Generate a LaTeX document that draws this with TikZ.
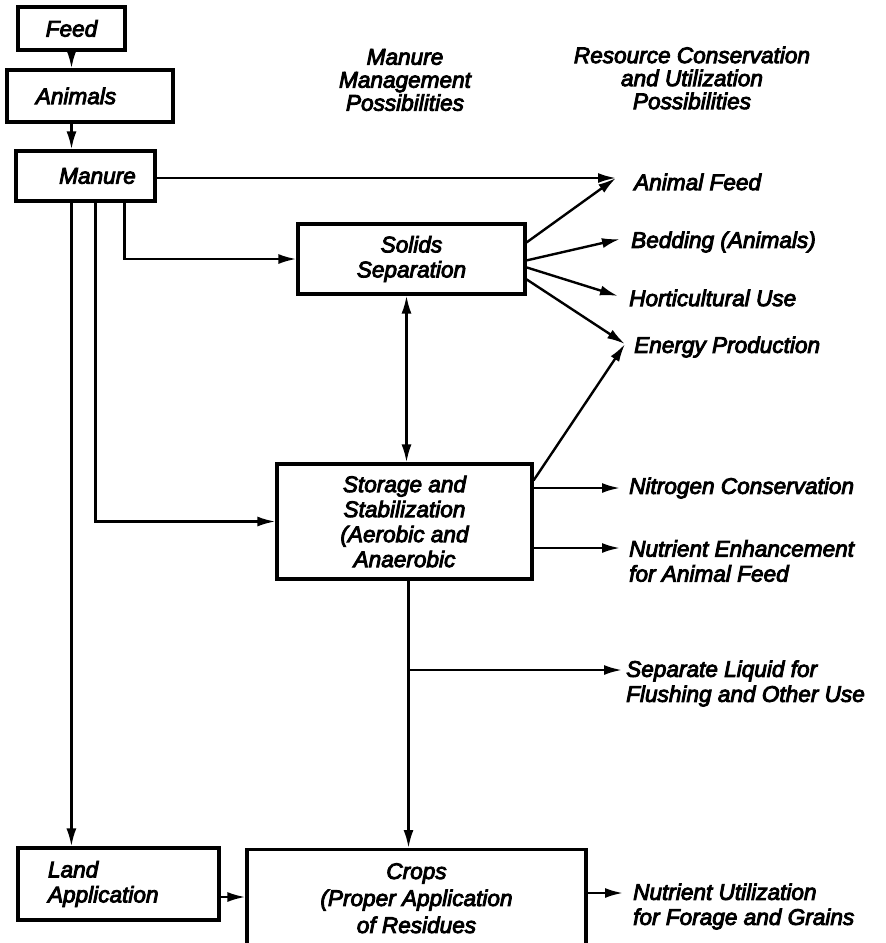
\documentclass[tikz,border=0pt]{standalone}
\usepackage{fontspec}
\newfontfamily\diafont{Liberation Sans}[ItalicFeatures={FakeBold=4}]
\usetikzlibrary{arrows.meta,positioning,calc}

\tikzset{
  box/.style={draw, line width=1.6pt, inner sep=0pt, align=center},
  lbl/.style={anchor=west, align=left, inner sep=0pt},
  hdr/.style={align=center, inner sep=0pt, font=\diafont\itshape\fontsize{11.3}{11.5}\selectfont},
}

\begin{document}
\begin{tikzpicture}[x=0.5pt, y=-0.5pt, line width=1.2pt,
    >={Latex[length=9pt,width=5pt]},
    font=\diafont\itshape\fontsize{11.3}{12.5}\selectfont]
    \useasboundingbox (0,0) rectangle (885,943);
    \clip (0,0) rectangle (885,943);

    % boxes
    \node[box, minimum width=53.5pt, minimum height=21.5pt] (feed) at (71.5,28.5) {Feed};
    \node[box, minimum width=83pt, minimum height=26pt] (animals) at (90,96) {Animals\hspace{14pt}};
    \node[box, minimum width=69.5pt, minimum height=25pt] (manure) at (85.5,176) {\hspace{12pt}Manure};
    \node[box, minimum width=113.5pt, minimum height=35pt] (solids) at (411.5,259) {Solids\\Separation};
    \node[box, minimum width=127.5pt, minimum height=57.5pt] (storage) at (404.5,521.5) {Storage and\\Stabilization\\(Aerobic and\\Anaerobic};
    \node[box, minimum width=100.5pt, minimum height=36pt, text width=70.5pt, inner xsep=15pt, align=left] (land) at (118.5,884) {Land\\Application};
    \node[box, anchor=north, minimum width=169.5pt, minimum height=75pt,
          label={[hdr, anchor=north, yshift=-7pt, font=\diafont\itshape\fontsize{11.3}{13.5}\selectfont]north:Crops\\(Proper Application\\of Residues}] (crops) at (416.5,848) {};

    % headings
    \node[hdr] (hmanage) at (405,80) {Manure\\Management\\Possibilities};
    \node[hdr] (hres) at (692,78) {Resource Conservation\\and Utilization\\Possibilities};

    % possibilities
    \node[lbl] (lfeed) at (633,182) {Animal Feed};
    \node[lbl] (lbed) at (630,242) {Bedding (Animals)};
    \node[lbl] (lhort) at (628,298) {Horticultural Use};
    \node[lbl] (lenergy) at (633,347) {Energy Production};
    \node[lbl] (lnitro) at (628,488) {Nitrogen Conservation};
    \node[lbl] (lnutr) at (628,561) {Nutrient Enhancement\\for Animal Feed};
    \node[lbl] (lliq) at (625,683.5) {Separate Liquid for\\Flushing and Other Use};
    \node[lbl] (lutil) at (632,906.5) {Nutrient Utilization\\for Forage and Grains};

    \coordinate (tfeed) at (616,178);
    \coordinate (tbed) at (620,239);
    \coordinate (thort) at (618,296);
    \coordinate (tenergy) at (625,344);
    \coordinate (tnitro) at (620,488);
    \coordinate (tnutr) at (620,548);
    \coordinate (tliq) at (622,670);
    \coordinate (tutil) at (623,893);
    \coordinate (m1) at ([xshift=28.5pt]manure.south west);
    \coordinate (m2) at ([xshift=40.5pt]manure.south west);
    \coordinate (m3) at ([xshift=55pt]manure.south west);
    \coordinate (s1) at ([xshift=-2.5pt]solids.south);
    \coordinate (s2) at ([xshift=2pt]storage.south);
    \coordinate (la) at ([yshift=-6.5pt]land.east);

    % connectors
    \draw[->] (feed.south) -- (animals.north -| feed);
    \draw[->] (animals.south -| feed) -- (manure.north -| feed);
    \draw[->] (manure.east |- tfeed) -- (tfeed);
    \draw[->] (m1) -- (land.north -| m1);
    \draw[->] (m2) |- (storage.west);
    \draw[->] (m3) |- (solids.west);
    \draw[->] ([yshift=-10pt]solids.north east) -- (tfeed);
    \draw[->] ([yshift=-19pt]solids.north east) -- (tbed);
    \draw[->] ([yshift=-22.5pt]solids.north east) -- (thort);
    \draw[->] ([yshift=-28.5pt]solids.north east) -- (tenergy);
    \draw[<->] (s1) -- (storage.north -| s1);
    \draw[->] ([yshift=-9pt]storage.north east) -- (tenergy);
    \draw[->] (storage.east |- tnitro) -- (tnitro);
    \draw[->] (storage.east |- tnutr) -- (tnutr);
    \draw[->] (s2) -- (crops.north -| s2);
    \draw[->] (s2 |- tliq) -- (tliq);
    \draw[->] (la) -- (la -| crops.west);
    \draw[->] (crops.east |- tutil) -- (tutil);
\end{tikzpicture}
\end{document}
